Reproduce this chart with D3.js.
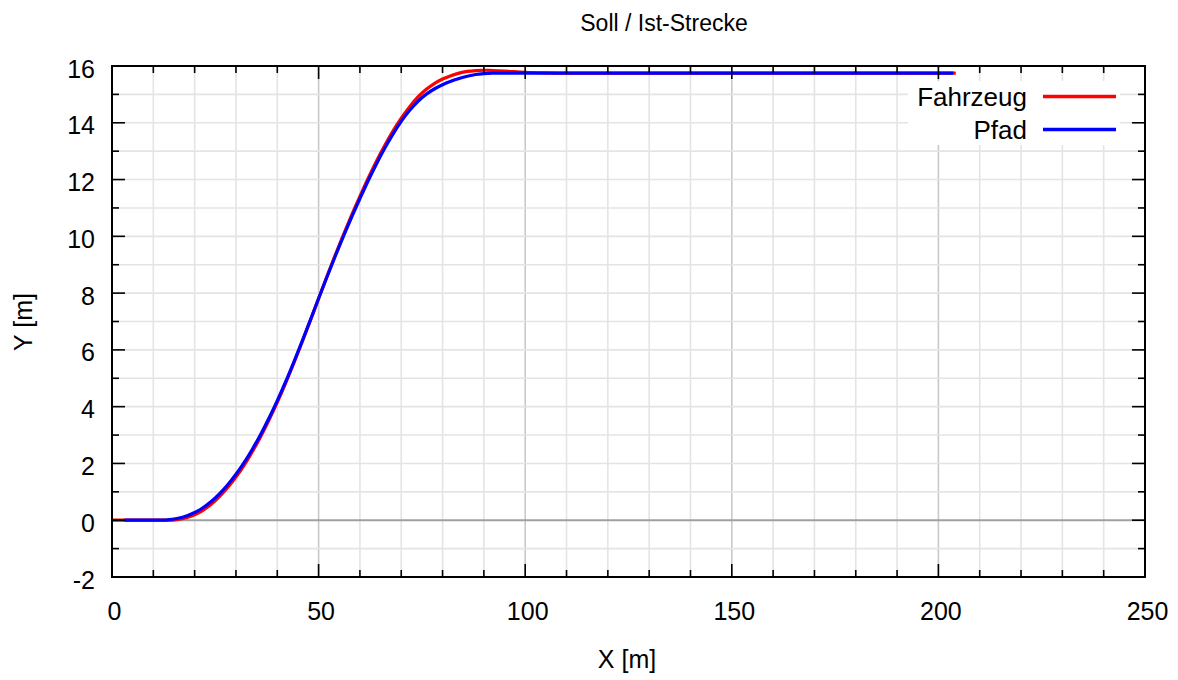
<!DOCTYPE html>
<html>
<head>
<meta charset="utf-8">
<script src="https://cdn.jsdelivr.net/npm/d3@7/dist/d3.min.js"></script>
<style>
  html, body { margin: 0; padding: 0; background: #fff; }
  svg text { font-family: "Liberation Sans", Arial, Helvetica, sans-serif; fill: #000; }
</style>
</head>
<body>
<svg id="chart" width="1178" height="680"></svg>
<script>
// ---- Data ----
const title = "Soll / Ist-Strecke";
const xLabel = "X [m]";
const yLabel = "Y [m]";
const seriesNames = ["Fahrzeug", "Pfad"];
const seriesColors = ["#ff0000", "#0000ff"];

const xTicks = [0, 50, 100, 150, 200, 250];
const yTicks = [-2, 0, 2, 4, 6, 8, 10, 12, 14, 16];

// Fahrzeug (vehicle, red)
const fahrzeugX = [0, 10, 14, 16, 18, 20, 22, 24, 26, 28, 30, 32, 34, 36, 38, 40, 42, 44, 46, 48, 50,
  52, 54, 56, 58, 60, 62, 64, 66, 68, 70, 72, 74, 76, 78, 80, 82, 84, 86, 88, 90, 92, 95, 100, 105, 110, 204.2];
const fahrzeugY = [0, 0, 0, 0.03, 0.09, 0.19, 0.35, 0.56, 0.83, 1.15, 1.52, 1.94, 2.42, 2.95, 3.53, 4.15, 4.82, 5.53, 6.27, 7.03, 7.81,
  8.58, 9.33, 10.05, 10.75, 11.41, 12.05, 12.65, 13.2, 13.71, 14.16, 14.56, 14.9, 15.17, 15.38, 15.54, 15.66, 15.75, 15.81, 15.84, 15.85, 15.84, 15.82, 15.78, 15.76, 15.75, 15.75];

// Pfad (path, blue)
const pfadX = [3, 10, 12, 14, 16, 18, 20, 22, 24, 26, 28, 30, 32, 34, 36, 38, 40, 42, 44, 46, 48, 50,
  52, 54, 56, 58, 60, 62, 64, 66, 68, 70, 72, 74, 76, 78, 80, 82, 84, 86, 88, 90, 92, 95, 203.6];
const pfadY = [0, 0, 0, 0.02, 0.07, 0.15, 0.27, 0.44, 0.66, 0.93, 1.25, 1.62, 2.04, 2.51, 3.03, 3.6, 4.21, 4.87, 5.57, 6.3, 7.05, 7.81,
  8.56, 9.29, 10.0, 10.68, 11.33, 11.96, 12.55, 13.1, 13.6, 14.05, 14.43, 14.75, 15.0, 15.19, 15.34, 15.46, 15.56, 15.64, 15.7, 15.73, 15.745, 15.75, 15.75];

// ---- Layout ----
const svg = d3.select("#chart");
const L = 112, R = 1145, T = 66, B = 577;
const x = d3.scaleLinear().domain([0, 250]).range([L, R]);
const y = d3.scaleLinear().domain([-2, 16]).range([B, T]);

// Grid
const gGrid = svg.append("g");
d3.range(0, 251, 10).forEach(v => {
  if (v === 0 || v === 250) return;
  gGrid.append("line")
    .attr("x1", x(v)).attr("x2", x(v)).attr("y1", T).attr("y2", B)
    .attr("stroke", v % 50 === 0 ? "#c8c8c8" : "#e4e4e4")
    .attr("stroke-width", 1.6);
});
d3.range(-1, 16, 1).forEach(v => {
  if (v === 0) return;
  gGrid.append("line")
    .attr("x1", L).attr("x2", R).attr("y1", y(v)).attr("y2", y(v))
    .attr("stroke", "#e4e4e4")
    .attr("stroke-width", 1.6);
});
// zero axis
svg.append("line")
  .attr("x1", L).attr("x2", R).attr("y1", y(0)).attr("y2", y(0))
  .attr("stroke", "#a0a0a0").attr("stroke-width", 2);

// Curves
const line = d3.line().x(d => x(d[0])).y(d => y(d[1])).curve(d3.curveMonotoneX);
const fData = fahrzeugX.map((v, i) => [v, fahrzeugY[i]]);
const pData = pfadX.map((v, i) => [v, pfadY[i]]);
svg.append("path").datum(fData).attr("d", line)
  .attr("fill", "none").attr("stroke", seriesColors[0]).attr("stroke-width", 3.2);
svg.append("path").datum(pData).attr("d", line)
  .attr("fill", "none").attr("stroke", seriesColors[1]).attr("stroke-width", 3.2);

// Legend box (white background)
svg.append("rect").attr("x", 908).attr("y", 81).attr("width", 212).attr("height", 64).attr("fill", "#fff");
const legendY = [96.5, 129.5];
seriesNames.forEach((n, i) => {
  svg.append("text").attr("x", 1027).attr("y", legendY[i] + 9)
    .attr("text-anchor", "end").attr("font-size", 26).text(n);
  svg.append("line").attr("x1", 1043).attr("x2", 1116)
    .attr("y1", legendY[i]).attr("y2", legendY[i])
    .attr("stroke", seriesColors[i]).attr("stroke-width", 3.5);
});

// Ticks (inward on all four sides)
const gT = svg.append("g").attr("stroke", "#000").attr("stroke-width", 1.6);
d3.range(0, 251, 10).forEach(v => {
  const len = v % 50 === 0 ? 13 : 7;
  gT.append("line").attr("x1", x(v)).attr("x2", x(v)).attr("y1", B).attr("y2", B - len);
  gT.append("line").attr("x1", x(v)).attr("x2", x(v)).attr("y1", T).attr("y2", T + len);
});
d3.range(-2, 17, 1).forEach(v => {
  const len = v % 2 === 0 ? 13 : 7;
  gT.append("line").attr("x1", L).attr("x2", L + len).attr("y1", y(v)).attr("y2", y(v));
  gT.append("line").attr("x1", R).attr("x2", R - len).attr("y1", y(v)).attr("y2", y(v));
});

// Border
svg.append("rect").attr("x", L).attr("y", T).attr("width", R - L).attr("height", B - T)
  .attr("fill", "none").attr("stroke", "#000").attr("stroke-width", 2);

// Tick labels via axes (no tick lines)
const fmt = d => String(d);
const xAxis = d3.axisBottom(x).tickValues(xTicks).tickSize(0).tickPadding(0).tickFormat(fmt);
const gx = svg.append("g").attr("transform", `translate(2,${B})`).call(xAxis);
gx.select(".domain").remove();
gx.selectAll("text").attr("font-size", 25).attr("font-family", null).attr("dy", null).attr("y", 43);

const yAxis = d3.axisLeft(y).tickValues(yTicks).tickSize(0).tickPadding(0).tickFormat(fmt);
const gy = svg.append("g").attr("transform", `translate(95,0)`).call(yAxis);
gy.select(".domain").remove();
gy.selectAll("text").attr("font-size", 25).attr("font-family", null).attr("dy", null).attr("x", 0).attr("y", 11);

// Title and axis labels
svg.append("text").attr("x", 664).attr("y", 31).attr("text-anchor", "middle")
  .attr("font-size", 23).text(title);
svg.append("text").attr("x", 627).attr("y", 668).attr("text-anchor", "middle")
  .attr("font-size", 25).text(xLabel);
svg.append("text").attr("transform", "translate(32,322) rotate(-90)").attr("text-anchor", "middle")
  .attr("font-size", 25).text(yLabel);
</script>
</body>
</html>
